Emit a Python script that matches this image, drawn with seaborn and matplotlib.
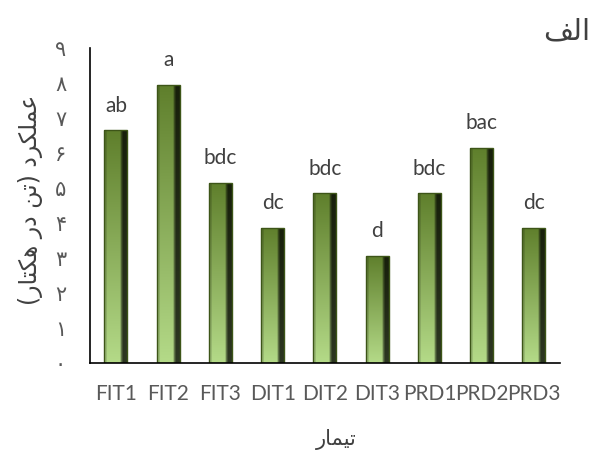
import numpy as np
import pandas as pd
import seaborn as sns
import matplotlib.pyplot as plt
from matplotlib.colors import to_rgb

# data
treatments = ["FIT1", "FIT2", "FIT3", "DIT1", "DIT2", "DIT3", "PRD1", "PRD2", "PRD3"]
yields = [6.65, 7.95, 5.15, 3.87, 4.85, 3.07, 4.85, 6.15, 3.87]
letters = ["ab", "a", "bdc", "dc", "bdc", "d", "bdc", "bac", "dc"]
y_ticks = list(range(10))
y_tick_labels = ["۰", "۱", "۲", "۳", "۴", "۵", "۶", "۷", "۸", "۹"]

# Persian strings written in visual order with presentation forms (no shaping engine)
title_fa = "\uFED2\uFEDF\uFE8D"                      # الف
xlabel_fa = "\uFEAD\uFE8E\uFEE4\uFEF4\uFE97"         # تیمار
ylabel_fa = ("(" + "\uFEAD\uFE8E\uFE98\uFB91\uFEEB" + " " + "\uFEAD\uFEA9" + " "
             + "\uFEE6\uFE97" + ") " + "\uFEA9\uFEAE\uFB91\uFEE0\uFEE4\uFECB")  # عملکرد (تن در هکتار)

df = pd.DataFrame({"treatment": treatments, "yield": yields})

sns.set_style("white")
plt.rcParams["font.family"] = ["Lato", "DejaVu Sans"]

fig = plt.figure(figsize=(5.99, 4.5), dpi=100)
ax = fig.add_axes([0.150, 0.193, 0.785, 0.700])

sns.barplot(data=df, x="treatment", y="yield", color="#7a9a40", width=0.44,
            edgecolor="#3d5518", linewidth=1.0, ax=ax)

# gradient fill clipped to every bar
top_c = np.array(to_rgb("#5f7f2c"))
bot_c = np.array(to_rgb("#b4da88"))
ny, nx = 100, 40
t = np.linspace(0, 1, ny)[:, None, None]
vert = top_c * (1 - t) + bot_c * t
xs = np.linspace(0, 1, nx)
shade = np.ones(nx)
shade[xs < 0.12] = 0.85
shade[xs > 0.72] = 0.55
shade[xs > 0.82] = 0.25
img = np.clip(vert * shade[None, :, None], 0, 1)

for p in ax.patches:
    x0, w, h = p.get_x(), p.get_width(), p.get_height()
    im = ax.imshow(img, extent=[x0, x0 + w, 0, h], aspect="auto", zorder=p.get_zorder() + 0.1)
    im.set_clip_path(p)
    p.set_facecolor("none")
    p.set_zorder(p.get_zorder() + 0.2)

for i, (v, lab) in enumerate(zip(yields, letters)):
    ax.text(i, v + 0.42, lab, ha="center", va="bottom", fontsize=15, color="#404040")

ax.set_xlim(-0.5, len(treatments) - 0.5)
ax.set_ylim(0, 9)
ax.set_yticks(y_ticks)
ax.set_yticklabels(y_tick_labels, family="DejaVu Sans", fontsize=15, color="#595959")
ax.tick_params(axis="y", length=0, pad=17)
ax.tick_params(axis="x", length=0, pad=15, labelsize=15, labelcolor="#595959")

sns.despine(ax=ax)
for s in ["left", "bottom"]:
    ax.spines[s].set_color("black")
    ax.spines[s].set_linewidth(1.2)

ax.set_xlabel(xlabel_fa, family="DejaVu Sans", fontsize=15, color="#404040")
ax.xaxis.set_label_coords(0.525, -0.21)
ax.set_ylabel(ylabel_fa, family="DejaVu Sans", fontsize=17, color="#404040")
ax.yaxis.set_label_coords(-0.1, 0.52)

fig.text(0.985, 0.93, title_fa, ha="right", va="center", family="DejaVu Sans",
         fontsize=21, color="#404040")

fig.savefig("out.png", dpi=100)
